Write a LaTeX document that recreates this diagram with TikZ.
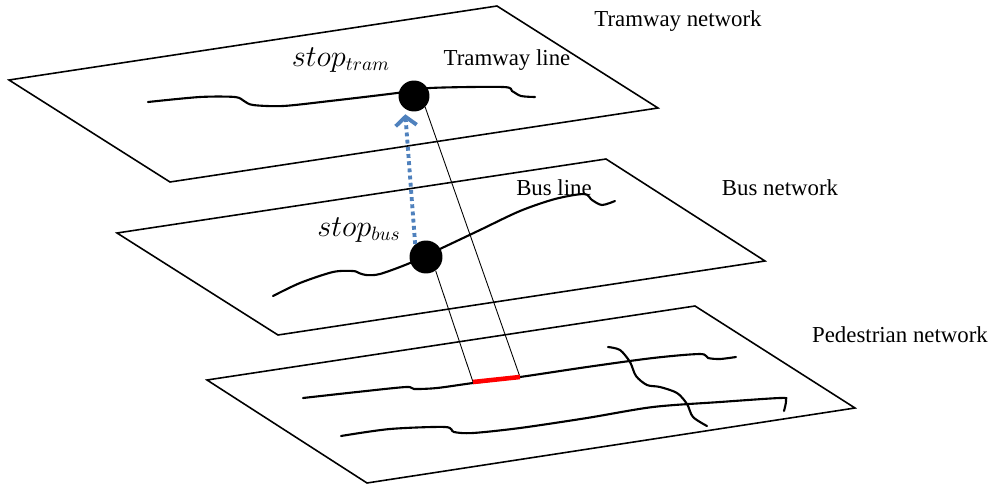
\documentclass[tikz,border=0pt]{standalone}
\usepackage{fontspec}
\setmainfont{Liberation Serif}
\usepackage{tikz}
\usetikzlibrary{arrows.meta}
\definecolor{linkblue}{HTML}{4F81BD}
\definecolor{walkred}{HTML}{FF0000}

\begin{document}
\begin{tikzpicture}[x=0.02cm, y=-0.02cm, font=\fontsize{13}{15}\selectfont,
  plane/.style={draw, line width=0.9pt},
  route/.style={line width=1.2pt, line cap=round},
  stopdot/.style={circle, fill=black, inner sep=0pt},
  proj/.style={line width=0.5pt},
  lbl/.style={anchor=base, inner sep=0pt},
  mlbl/.style={lbl, font=\fontsize{16}{19}\selectfont},
  transfer/.style={draw=linkblue, line width=2.2pt, dash pattern=on 2.2pt off 1.9pt,
    -{Straight Barb[length=5pt, width=12pt]}, shorten >=3pt}]
  \useasboundingbox (0,0) rectangle (992,487);
  \draw[plane] (9,80) -- (497,6) -- (658,108) -- (170,182) -- cycle;
  \draw[plane] (117,233) -- (606,159) -- (765,261) -- (278,335) -- cycle;
  \draw[plane] (207,380) -- (695,306) -- (855,408) -- (367,483) -- cycle;
  \draw[route] plot[smooth] coordinates {(148,102) (200,97) (235,97) (244,101) (253,105)
    (283,106) (330,101) (397,93) (430,88) (503,87) (512,91) (521,96) (535,97)};
  \draw[route] plot[smooth] coordinates {(273,296) (300,283) (333,272) (353,271) (359,273)
    (366,275) (380,274) (410,263) (442,248) (480,230) (520,211) (555,199) (584,194)
    (592,200) (602,205) (615,201)};
  \draw[route] plot[smooth] coordinates {(303,398) (357,392) (406,387) (414,389) (437,388)
    (473,383) (520,377) (587,367) (653,358) (700,354) (708,358) (720,359) (736,357)};
  \draw[route] plot[smooth] coordinates {(341,436) (390,429) (445,427) (454,432) (473,433)
    (520,428) (587,418) (653,407) (720,402) (780,398) (786,400) (784,411)};
  \draw[route] plot[smooth] coordinates {(608,347) (620,350) (630,362) (636,376) (647,385)
    (660,387) (677,393) (687,404) (693,417) (707,426)};
  \node[stopdot, minimum size=0.62cm] (tramstop) at (414,96) {};
  \node[stopdot, minimum size=0.66cm] (busstop) at (426,257) {};
  \coordinate (redA) at (473,382);
  \coordinate (redB) at (520,377);
  \draw[proj] (redA) -- (busstop.305);
  \draw[proj] (redB) -- (tramstop.south east);
  \draw[walkred, line width=2.6pt] (redA) -- (redB);
  \draw[transfer] (busstop.130) -- (tramstop.235);
  \node[lbl] (tramnet) at (678,26) {Tramway network};
  \node[lbl] (tramline) at (507,65) {Tramway line};
  \node[mlbl] (tramlbl) at (341,66) {$stop_{tram}$};
  \node[lbl] (busline) at (554,195) {Bus line};
  \node[lbl] (busnet) at (780,195) {Bus network};
  \node[mlbl] (buslbl) at (359,236) {$stop_{bus}$};
  \node[lbl] (pednet) at (900,342) {Pedestrian network};
\end{tikzpicture}
\end{document}
